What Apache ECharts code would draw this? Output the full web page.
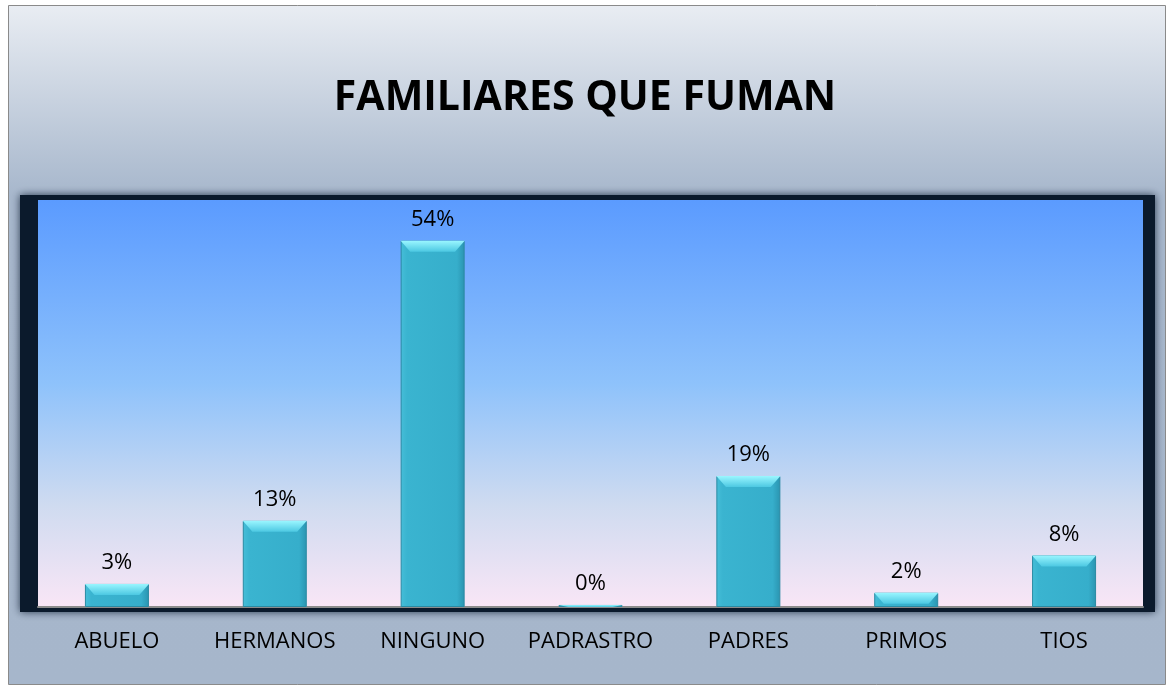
<!DOCTYPE html>
<html>
<head>
<meta charset="utf-8">
<title>Familiares que fuman</title>
<script src="https://cdn.jsdelivr.net/npm/echarts@6/dist/echarts.min.js"></script>
<style>
  html, body { margin: 0; padding: 0; background: #fff; }
  #chart { width: 1170px; height: 687px; }
</style>
</head>
<body>
<div id="chart"></div>
<script>
// datos
var categorias = ["ABUELO", "HERMANOS", "NINGUNO", "PADRASTRO", "PADRES", "PRIMOS", "TIOS"];
var porcentajes = [3.4, 12.7, 54, 0.3, 19.3, 2.1, 7.6];

var chart = echarts.init(document.getElementById("chart"));

// brillo superior de cada barra (bisel)
var bisel = porcentajes.map(function (v) {
  return { value: v, symbolSize: [64, Math.min(11, v * 6.8)] };
});

chart.setOption({
  animation: false,
  textStyle: { fontFamily: "Open Sans" },
  title: {
    text: "FAMILIARES QUE FUMAN",
    left: "center",
    top: 73,
    textStyle: { fontSize: 41, fontWeight: "bold", color: "#000", fontFamily: "Open Sans" }
  },
  graphic: [
    {
      // fondo exterior
      type: "rect",
      z: -20,
      shape: { x: 8.5, y: 5.5, width: 1157, height: 679 },
      style: {
        fill: new echarts.graphic.LinearGradient(0, 0, 0, 1, [
          { offset: 0, color: "#e9edf3" },
          { offset: 0.28, color: "#a7b7cc" },
          { offset: 1, color: "#a6b6cb" }
        ]),
        stroke: "#8a8a8a",
        lineWidth: 1
      }
    },
    {
      // marco oscuro con sombra
      type: "rect",
      z: -10,
      shape: { x: 20, y: 195, width: 1135, height: 417 },
      style: {
        fill: "#0b1a2c",
        shadowBlur: 8,
        shadowColor: "rgba(10,25,45,0.8)"
      }
    }
  ],
  grid: {
    left: 38,
    right: 27,
    top: 200,
    bottom: 80,
    show: true,
    borderWidth: 0,
    backgroundColor: new echarts.graphic.LinearGradient(0, 0, 0, 1, [
      { offset: 0, color: "#5b9bff" },
      { offset: 0.45, color: "#8ec2fb" },
      { offset: 0.75, color: "#cfdbf0" },
      { offset: 1, color: "#f9e6f6" }
    ])
  },
  xAxis: {
    type: "category",
    data: categorias,
    axisTick: { show: false },
    axisLine: { lineStyle: { color: "#8c8c8c", width: 2 } },
    axisLabel: { color: "#000", fontSize: 22, margin: 24, interval: 0, hideOverlap: false }
  },
  yAxis: {
    type: "value",
    min: 0,
    max: 60,
    show: false,
    splitLine: { show: false }
  },
  series: [
    {
      type: "bar",
      data: porcentajes,
      barWidth: 64,
      itemStyle: {
        color: new echarts.graphic.LinearGradient(0, 0, 1, 0, [
          { offset: 0, color: "#46bed8" },
          { offset: 0.1, color: "#3ab4d0" },
          { offset: 0.88, color: "#36aecb" },
          { offset: 1, color: "#2a94b0" }
        ]),
        borderColor: "#2a8aa3",
        borderWidth: 1
      },
      label: {
        show: true,
        position: "top",
        distance: 10,
        color: "#000",
        fontSize: 22,
        formatter: function (p) {
          return Math.round(p.value) + "%";
        }
      }
    },
    {
      type: "pictorialBar",
      data: bisel,
      barGap: "-100%",
      symbol: "path://M0,0 L20,0 L17,3 L3,3 Z",
      symbolKeepAspect: false,
      symbolPosition: "end",
      itemStyle: {
        color: new echarts.graphic.LinearGradient(0, 0, 0, 1, [
          { offset: 0, color: "#9af6ff" },
          { offset: 1, color: "#4cc8e2" }
        ])
      },
      z: 3
    }
  ]
});
</script>
</body>
</html>
